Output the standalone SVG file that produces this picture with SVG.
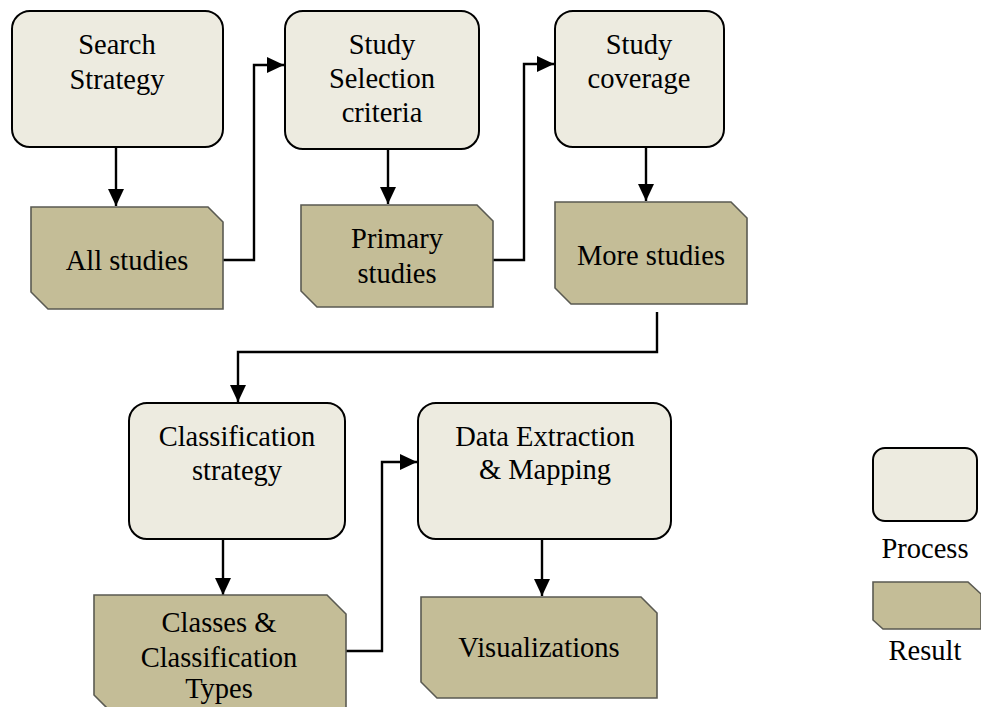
<svg xmlns="http://www.w3.org/2000/svg" width="981" height="707" viewBox="0 0 981 707">
  <style>
    .process { fill: #EDEBE0; stroke: #000; stroke-width: 2; }
    .result { fill: #C4BD97; stroke: #5A5A52; stroke-width: 1.6; }
    .label { font-family: "Liberation Serif", "Times New Roman", serif; font-size: 28.5px; fill: #000; text-anchor: middle; }
    .link { fill: none; stroke: #000; stroke-width: 2.4; }
  </style>
  <defs>
    <marker id="arrow" markerUnits="userSpaceOnUse" markerWidth="18" markerHeight="16" refX="17" refY="8" orient="auto">
      <path d="M0,0 L17,8 L0,16 Z" fill="#000"/>
    </marker>
  </defs>
  <rect width="981" height="707" fill="#fff"/>

  <!-- connectors -->
  <g id="connectors">
    <path class="link" d="M116,147 V206" marker-end="url(#arrow)"/>
    <path class="link" d="M223,260 H254 V65 H284" marker-end="url(#arrow)"/>
    <path class="link" d="M388,149 V204" marker-end="url(#arrow)"/>
    <path class="link" d="M493,260 H524 V64 H554" marker-end="url(#arrow)"/>
    <path class="link" d="M646,147 V201" marker-end="url(#arrow)"/>
    <path class="link" d="M657,312 V352 H238 V402" marker-end="url(#arrow)"/>
    <path class="link" d="M223,539 V595" marker-end="url(#arrow)"/>
    <path class="link" d="M346,651 H382 V462 H417" marker-end="url(#arrow)"/>
    <path class="link" d="M542,539 V596" marker-end="url(#arrow)"/>
  </g>

  <!-- process steps -->
  <g id="search-strategy">
    <rect class="process" x="12" y="11" width="211" height="136" rx="18"/>
    <text class="label" x="117" y="54">Search</text>
    <text class="label" x="117" y="89">Strategy</text>
  </g>
  <g id="study-selection">
    <rect class="process" x="285" y="11" width="194" height="138" rx="18"/>
    <text class="label" x="382" y="54">Study</text>
    <text class="label" x="382" y="88">Selection</text>
    <text class="label" x="382" y="122">criteria</text>
  </g>
  <g id="study-coverage">
    <rect class="process" x="555" y="11" width="169" height="136" rx="18"/>
    <text class="label" x="639" y="54">Study</text>
    <text class="label" x="639" y="88">coverage</text>
  </g>
  <g id="classification-strategy">
    <rect class="process" x="129" y="403" width="216" height="136" rx="18"/>
    <text class="label" x="237" y="446">Classification</text>
    <text class="label" x="237" y="480">strategy</text>
  </g>
  <g id="data-extraction">
    <rect class="process" x="418" y="403" width="253" height="136" rx="18"/>
    <text class="label" x="545" y="446">Data Extraction</text>
    <text class="label" x="545" y="479">&amp; Mapping</text>
  </g>

  <!-- results -->
  <g id="all-studies">
    <path class="result" d="M31,207 H208 L223,222 V309 H48 L31,292 Z"/>
    <text class="label" x="127" y="270">All studies</text>
  </g>
  <g id="primary-studies">
    <path class="result" d="M301,205 H477 L493,221 V307 H317 L301,291 Z"/>
    <text class="label" x="397" y="248">Primary</text>
    <text class="label" x="397" y="283">studies</text>
  </g>
  <g id="more-studies">
    <path class="result" d="M555,202 H731 L747,218 V304 H571 L555,288 Z"/>
    <text class="label" x="651" y="265">More studies</text>
  </g>
  <g id="classes-types">
    <path class="result" d="M94,595 H327 L346,614 V708 H107 L94,695 Z"/>
    <text class="label" x="219" y="632">Classes &amp;</text>
    <text class="label" x="219" y="667">Classification</text>
    <text class="label" x="219" y="698">Types</text>
  </g>
  <g id="visualizations">
    <path class="result" d="M421,597 H641 L657,613 V698 H437 L421,682 Z"/>
    <text class="label" x="539" y="657">Visualizations</text>
  </g>

  <!-- legend -->
  <g id="legend-process">
    <rect class="process" x="873" y="448" width="104" height="73" rx="12"/>
    <text class="label" x="925" y="558">Process</text>
  </g>
  <g id="legend-result">
    <path class="result" d="M873,582 H968 L981,594 V629 H883 L873,620 Z"/>
    <text class="label" x="925" y="660">Result</text>
  </g>
</svg>
